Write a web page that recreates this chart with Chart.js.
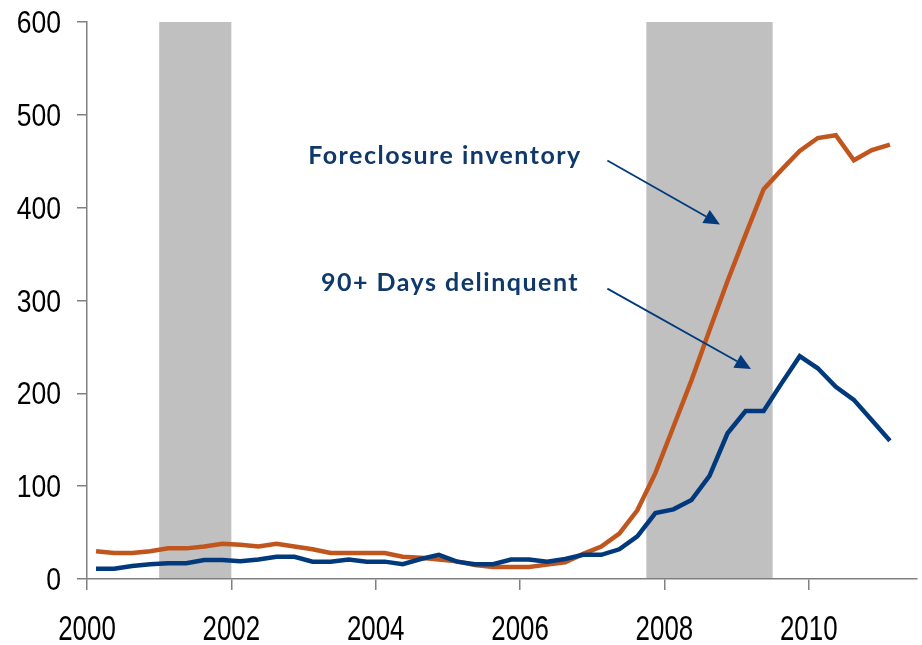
<!DOCTYPE html>
<html>
<head>
<meta charset="utf-8">
<script src="https://cdn.jsdelivr.net/npm/chart.js@4.4.1/dist/chart.umd.min.js"></script>
<style>
  html, body { margin: 0; padding: 0; background: #fff; }
  #chart { display: block; }
</style>
</head>
<body>
<canvas id="chart" width="922" height="645"></canvas>
<script>
// quarterly series, thousands of loans
const quarters = [
  '2000Q1', '2000Q2', '2000Q3', '2000Q4',
  '2001Q1', '2001Q2', '2001Q3', '2001Q4',
  '2002Q1', '2002Q2', '2002Q3', '2002Q4',
  '2003Q1', '2003Q2', '2003Q3', '2003Q4',
  '2004Q1', '2004Q2', '2004Q3', '2004Q4',
  '2005Q1', '2005Q2', '2005Q3', '2005Q4',
  '2006Q1', '2006Q2', '2006Q3', '2006Q4',
  '2007Q1', '2007Q2', '2007Q3', '2007Q4',
  '2008Q1', '2008Q2', '2008Q3', '2008Q4',
  '2009Q1', '2009Q2', '2009Q3', '2009Q4',
  '2010Q1', '2010Q2', '2010Q3', '2010Q4',
  '2011Q1'
];
const foreclosureInventory = [
  30, 28, 28, 30,
  33, 33, 35, 38,
  37, 35, 38, 35,
  32, 28, 28, 28,
  28, 24, 23, 21,
  19, 15, 13, 13,
  13, 15.5, 18, 27,
  35, 49, 74, 114,
  164, 214, 268, 321,
  371, 420, 441, 461,
  475, 478, 451, 462,
  468
];
const delinquent90 = [
  11, 11, 14, 16,
  17, 17, 20.5, 20.5,
  19, 21, 24, 24,
  18.7, 18.7, 21, 18.7,
  18.7, 16, 21.5, 26,
  18.7, 16, 16, 21,
  21, 18.5, 21.5, 26,
  26, 32, 46, 71,
  75, 85, 111, 157,
  181, 181, 211, 240,
  227, 207, 193, 171,
  149
];
const recessions = [[2001.0, 2002.0], [2007.75, 2009.5]];

const orange = '#c0561d';
const navy = '#003a7d';
const noteColor = '#10396b';

// quarter label -> decimal year at mid-quarter
function qx(label) {
  const y = parseInt(label.slice(0, 4), 10);
  const q = parseInt(label.slice(5), 10);
  return y + (q - 0.5) / 4;
}
const toPoints = vals => vals.map((v, i) => ({ x: qx(quarters[i]), y: v }));

// narrow tick labels: Liberation Sans squeezed horizontally (no narrow font installed)
function narrowText(ctx, txt, px, py, align, size, squeeze) {
  ctx.save();
  ctx.font = size + "px 'Liberation Sans', Arimo, sans-serif";
  ctx.textAlign = align;
  ctx.textBaseline = 'alphabetic';
  ctx.translate(px, py);
  ctx.scale(squeeze, 1);
  ctx.fillText(txt, 0, 0);
  ctx.restore();
}

const notes = {
  id: 'notes',
  beforeDraw(chart) {
    const { ctx, chartArea, scales: { x } } = chart;
    ctx.save();
    ctx.fillStyle = '#c0c0c0';
    recessions.forEach(([a, b]) => {
      const x0 = x.getPixelForValue(a), x1 = x.getPixelForValue(b);
      ctx.fillRect(x0, chartArea.top, x1 - x0, chartArea.bottom - chartArea.top);
    });
    ctx.restore();
  },
  afterDatasetsDraw(chart) {
    const { ctx, scales: { x, y } } = chart;
    ctx.save();
    ctx.fillStyle = noteColor;
    ctx.font = "bold 25px Lato, 'Open Sans', sans-serif";
    ctx.letterSpacing = '1.5px';
    ctx.textAlign = 'center';
    ctx.textBaseline = 'alphabetic';
    ctx.fillText('Foreclosure inventory', x.getPixelForValue(2004.96), y.getPixelForValue(446.6));
    ctx.fillText('90+ Days delinquent', x.getPixelForValue(2005.03), y.getPixelForValue(310));
    ctx.letterSpacing = '0px';

    const arrow = (x0, y0, x1, y1) => {
      const ax = x.getPixelForValue(x0), ay = y.getPixelForValue(y0);
      const bx = x.getPixelForValue(x1), by = y.getPixelForValue(y1);
      const ang = Math.atan2(by - ay, bx - ax);
      const len = 16, half = 7.5;
      const hx = bx - len * Math.cos(ang), hy = by - len * Math.sin(ang);
      ctx.strokeStyle = navy;
      ctx.lineWidth = 1.8;
      ctx.beginPath();
      ctx.moveTo(ax, ay);
      ctx.lineTo(hx, hy);
      ctx.stroke();
      ctx.fillStyle = navy;
      ctx.beginPath();
      ctx.moveTo(bx, by);
      ctx.lineTo(hx + half * Math.sin(ang), hy - half * Math.cos(ang));
      ctx.lineTo(hx - half * Math.sin(ang), hy + half * Math.cos(ang));
      ctx.closePath();
      ctx.fill();
    };
    arrow(2007.21, 450.9, 2008.77, 381.9);
    arrow(2007.21, 312.8, 2009.2, 226.2);
    ctx.restore();
  },
  afterDraw(chart) {
    const { ctx, scales: { x, y } } = chart;
    ctx.save();
    ctx.fillStyle = '#000';
    y.ticks.forEach(t => {
      narrowText(ctx, String(t.value), y.right - 26, y.getPixelForValue(t.value) + 11, 'right', 32, 0.83);
    });
    x.ticks.forEach(t => {
      narrowText(ctx, String(t.value), x.getPixelForValue(t.value), x.top + 61, 'center', 35, 0.74);
    });
    ctx.restore();
  }
};

new Chart(document.getElementById('chart').getContext('2d'), {
  type: 'line',
  data: {
    datasets: [{
      label: '90+ Days delinquent',
      data: toPoints(delinquent90),
      borderColor: navy,
      backgroundColor: navy,
      borderWidth: 4.5,
      pointRadius: 0,
      tension: 0
    }, {
      label: 'Foreclosure inventory',
      data: toPoints(foreclosureInventory),
      borderColor: orange,
      backgroundColor: orange,
      borderWidth: 4.5,
      pointRadius: 0,
      tension: 0
    }]
  },
  options: {
    responsive: false,
    animation: false,
    layout: { padding: { top: 22, right: 5, left: 0, bottom: 0 } },
    plugins: {
      legend: { display: false },
      tooltip: { enabled: false }
    },
    scales: {
      x: {
        type: 'linear',
        min: 2000,
        max: 2011.5,
        afterFit: s => { s.height = 66; },
        border: { display: true, color: '#808080', width: 1.5 },
        grid: { drawOnChartArea: false, drawTicks: true, tickLength: 11, color: '#808080', lineWidth: 1.5 },
        ticks: {
          display: false,
          stepSize: 2,
          includeBounds: false,
          autoSkip: false,
          maxRotation: 0
        }
      },
      y: {
        min: 0,
        max: 600,
        afterFit: s => { s.width = 87; },
        border: { display: true, color: '#808080', width: 1.5 },
        grid: { drawOnChartArea: false, drawTicks: true, tickLength: 10, color: '#808080', lineWidth: 1.5 },
        ticks: {
          display: false,
          stepSize: 100
        }
      }
    }
  },
  plugins: [notes]
});
</script>
</body>
</html>
